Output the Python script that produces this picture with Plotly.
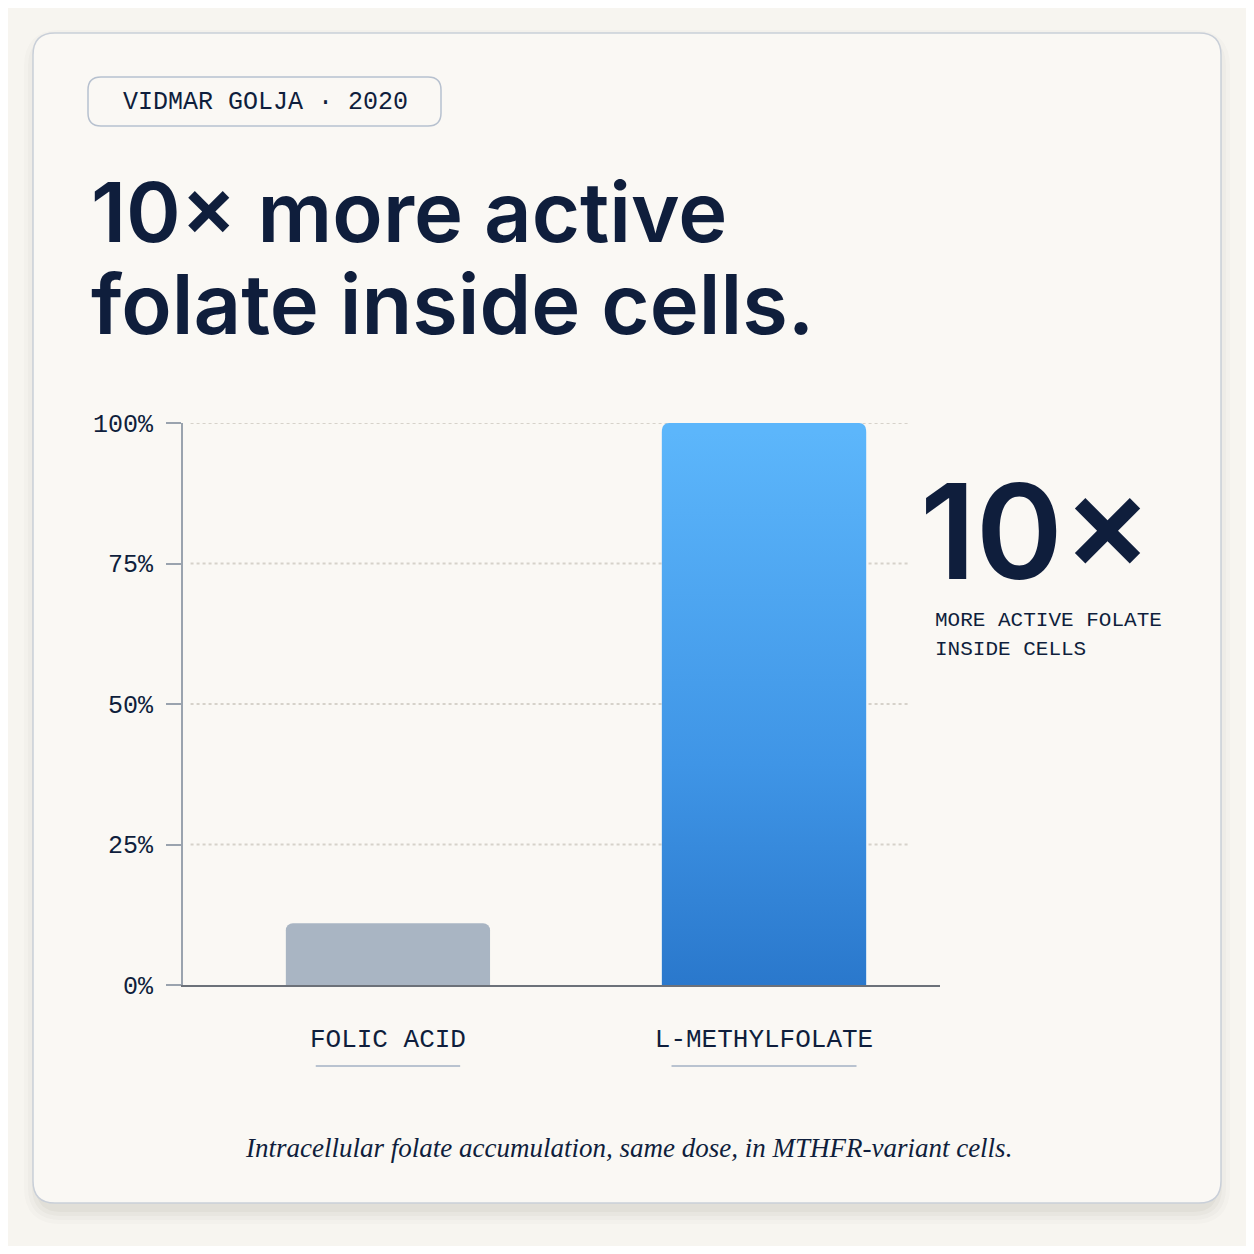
import plotly.graph_objects as go

# data
categories = ["FOLIC ACID", "L-METHYLFOLATE"]
values = [11, 100]
y_ticks = [0, 25, 50, 75, 100]
y_tick_labels = ["0%", "25%", "50%", "75%", "100%"]

# the page puts an 8px margin round the plot div, so size the figure to fit inside it
LEFT, TOP = 8, 8
FW, FH = 1238, 1238
NAVY = "#0f1e3c"
MONO = "Liberation Mono"
BAR_W = 0.543


def px(x):
    return (x - LEFT) / FW


def py(y):
    return 1 - (y - TOP) / FH


def rounded_rect(x0, y0, x1, y1, r):
    # path in paper coords from a pixel box
    return (
        f"M {px(x0 + r)},{py(y0)} L {px(x1 - r)},{py(y0)} "
        f"Q {px(x1)},{py(y0)} {px(x1)},{py(y0 + r)} "
        f"L {px(x1)},{py(y1 - r)} Q {px(x1)},{py(y1)} {px(x1 - r)},{py(y1)} "
        f"L {px(x0 + r)},{py(y1)} Q {px(x0)},{py(y1)} {px(x0)},{py(y1 - r)} "
        f"L {px(x0)},{py(y0 + r)} Q {px(x0)},{py(y0)} {px(x0 + r)},{py(y0)} Z"
    )


xs = list(range(len(categories)))

fig = go.Figure()

fig.add_trace(go.Bar(
    x=xs, y=values, width=BAR_W,
    marker=dict(color=["#a9b5c3", "#5cb6fb"], line=dict(width=0), cornerradius=7),
    hoverinfo="skip", showlegend=False,
))

# gradient overlay for the tall bar
i = 1
top = values[i] - 1.5
fig.add_trace(go.Scatter(
    x=[i - BAR_W / 2, i + BAR_W / 2, i + BAR_W / 2, i - BAR_W / 2, i - BAR_W / 2],
    y=[0, 0, top, top, 0],
    mode="none", fill="toself",
    fillgradient=dict(type="vertical", colorscale=[[0, "#2a78cc"], [0.4, "#3f95e6"], [1, "#5cb6fb"]]),
    hoverinfo="skip", showlegend=False,
))

shapes = []
# card shadow + card
for k, op in enumerate([0.035, 0.03, 0.025, 0.02]):
    d = 3 + k * 4
    shapes.append(dict(type="path", xref="paper", yref="paper",
                       path=rounded_rect(33 - d + 6, 33 - d + 12, 1221 + d - 6, 1203 + d + 6, 22 + d),
                       fillcolor=f"rgba(60,50,30,{op})", line=dict(width=0), layer="below"))
shapes.append(dict(type="path", xref="paper", yref="paper",
                   path=rounded_rect(33, 33, 1221, 1203, 22),
                   fillcolor="#faf8f4", line=dict(color="#c9cfd8", width=1.5), layer="below"))
# badge
shapes.append(dict(type="path", xref="paper", yref="paper",
                   path=rounded_rect(88, 77, 441, 126, 13),
                   fillcolor="rgba(0,0,0,0)", line=dict(color="#b7c1cf", width=1.5), layer="below"))
# dotted gridlines
for t in y_ticks[1:]:
    shapes.append(dict(type="line", xref="x domain", yref="y", x0=0.01, x1=0.96, y0=t, y1=t,
                       line=dict(color="#d6d2ca", width=2, dash="dot"), layer="below"))
# underlines under category labels
for c, half in zip(xs, [0.192, 0.246]):
    shapes.append(dict(type="line", xref="x", yref="paper", x0=c - half, x1=c + half,
                       y0=py(1066), y1=py(1066), line=dict(color="#b9c3d0", width=2)))

annotations = [
    dict(text="VIDMAR GOLJA · 2020", x=px(265), y=py(102), xanchor="center", yanchor="middle",
         font=dict(family=MONO, size=25, color=NAVY)),
    dict(text="10× more active", x=px(89), y=py(212), xanchor="left", yanchor="middle",
         font=dict(family="Inter", size=83, color=NAVY, weight=600)),
    dict(text="folate inside cells.", x=px(89), y=py(304), xanchor="left", yanchor="middle",
         font=dict(family="Inter", size=83, color=NAVY, weight=600)),
    # box trimmed below the baseline so it does not reach the caption under it
    dict(text="10×", x=px(918), y=py(449), xanchor="left", yanchor="top",
         height=140, valign="top",
         font=dict(family="Inter", size=132, color=NAVY, weight=600)),
    dict(text="MORE ACTIVE FOLATE", x=px(933), y=py(620), xanchor="left", yanchor="middle",
         font=dict(family=MONO, size=21, color=NAVY)),
    dict(text="INSIDE CELLS", x=px(933), y=py(649), xanchor="left", yanchor="middle",
         font=dict(family=MONO, size=21, color=NAVY)),
    dict(text="<i>Intracellular folate accumulation, same dose, in MTHFR-variant cells.</i>",
         x=px(629), y=py(1148), xanchor="center", yanchor="middle",
         font=dict(family="Liberation Serif", size=27, color=NAVY)),
]
for a in annotations:
    a.update(xref="paper", yref="paper", showarrow=False)

fig.update_layout(
    width=FW, height=FH,
    margin=dict(l=0, r=0, t=0, b=0, pad=0),
    paper_bgcolor="#f7f5f0", plot_bgcolor="rgba(0,0,0,0)",
    barmode="overlay",
    shapes=shapes, annotations=annotations,
    xaxis=dict(
        domain=[px(183), px(940)], range=[-0.545, 1.468], automargin=False,
        tickvals=xs, ticktext=categories, showgrid=False, zeroline=False,
        showline=True, linecolor="#6c7179", linewidth=2, ticks="",
        tickfont=dict(family=MONO, size=26, color=NAVY), ticklabelstandoff=29,
        fixedrange=True,
    ),
    yaxis=dict(
        domain=[py(985), py(423)], range=[0, 100], automargin=False,
        tickvals=y_ticks, ticktext=y_tick_labels, showgrid=False, zeroline=False,
        showline=True, linecolor="#9aa3ae", linewidth=2,
        ticks="outside", ticklen=15, tickwidth=2, tickcolor="#9aa3ae",
        tickfont=dict(family=MONO, size=25, color=NAVY), ticklabelstandoff=8,
        fixedrange=True,
    ),
)

fig.write_html("out.html")
